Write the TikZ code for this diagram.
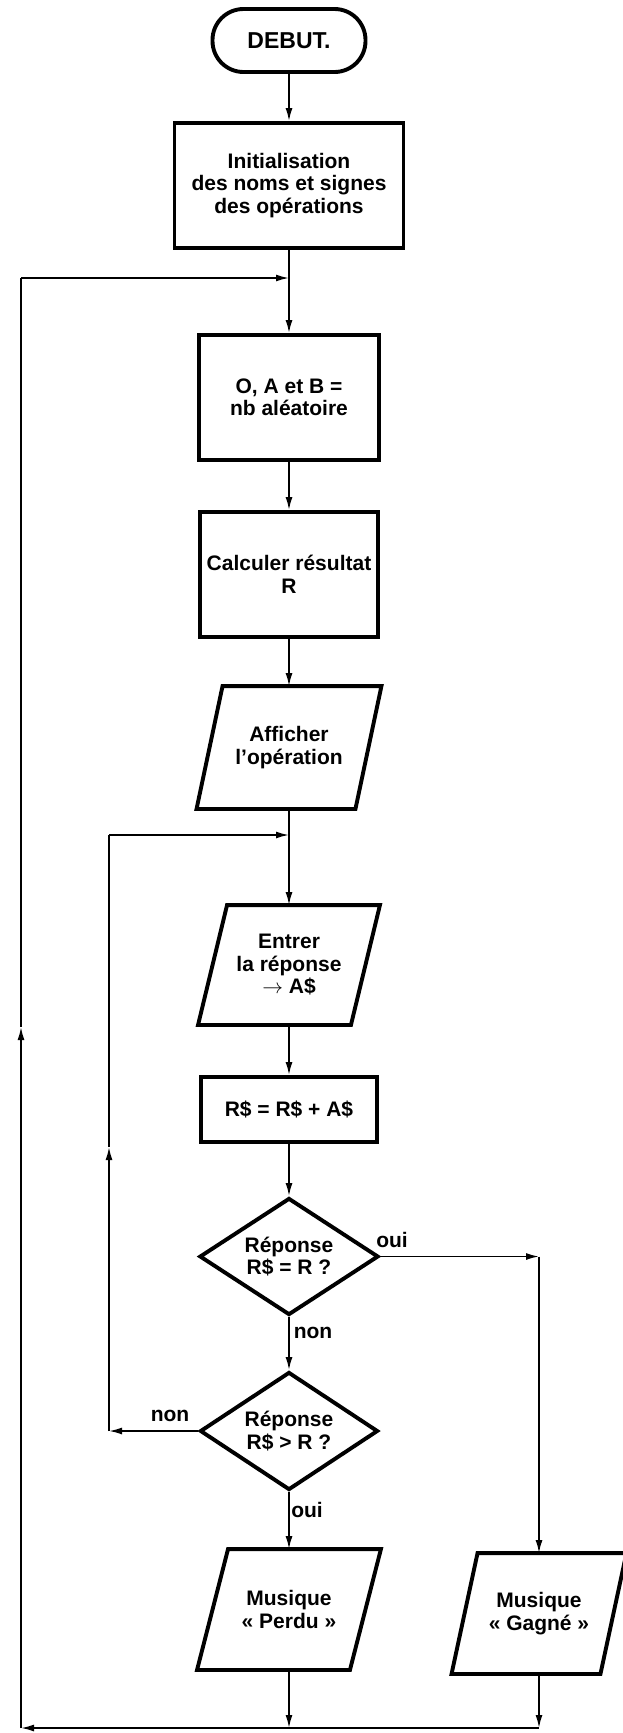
\documentclass[tikz,border=0pt]{standalone}
\usepackage{fontspec}
\setmainfont{Liberation Sans}
\usetikzlibrary{shapes.geometric,arrows.meta}
\newcommand{\iooutline}[2]{%
  \draw[boxline] ([xshift=#2]#1.north west) -- ([xshift=#2]#1.north east)
    -- ([xshift=-#2]#1.south east) -- ([xshift=-#2]#1.south west) -- cycle;}
\begin{document}
\begin{tikzpicture}[x=1pt,y=-1pt,
  txt/.style={font=\fontsize{21}{22.5}\selectfont\bfseries, align=center, inner sep=0pt},
  boxline/.style={line width=3.9pt, line join=miter},
  proc/.style={txt, draw, boxline, rectangle},
  term/.style={proc, rounded corners=31pt},
  iob/.style={txt, rectangle, outer sep=1.95pt},
  dec/.style={txt, draw, boxline, diamond, aspect=1.53},
  lbl/.style={font=\fontsize{21}{22.5}\selectfont\bfseries, inner sep=0pt, anchor=base},
  ln/.style={line width=1.7pt},
  arr/.style={ln, -{Latex[length=13pt,width=7pt]}}
]
\fill[white] (0,0) rectangle (623,1733);
\useasboundingbox (0,0) rectangle (623,1733);

% nodes
\node[term, minimum width=153, minimum height=63, font=\fontsize{23}{25}\selectfont\bfseries] (deb) at (289,40.5) {DEBUT.};
\node[proc, minimum width=229, minimum height=125] (init) at (289,185.5) {Initialisation\\des noms et signes\\des opérations};
\node[proc, minimum width=180, minimum height=125] (oab) at (289,397.5) {O, A et B =\\nb aléatoire};
\node[proc, minimum width=178, minimum height=125] (calc) at (289,574.5) {Calculer résultat\\R};
\node[iob, minimum width=155, minimum height=119] (aff) at (289,747.5) {Afficher\\l’opération};
\iooutline{aff}{13}
\node[iob, minimum width=149, minimum height=116] (ent) at (289,965) {Entrer\\la réponse\\$\rightarrow$ A\$};
\iooutline{ent}{14.5}
\node[proc, minimum width=176, minimum height=65] (rs) at (289,1109.5) {R\$ = R\$ + A\$};
\node[dec, minimum width=179, minimum height=117] (d1) at (289,1256.5) {Réponse\\R\$ = R ?};
\node[dec, minimum width=178, minimum height=118] (d2) at (289,1431) {Réponse\\R\$ > R ?};
\node[iob, minimum width=149, minimum height=117] (per) at (289,1609.5) {Musique\\« Perdu »};
\iooutline{per}{15.5}
\node[iob, minimum width=145, minimum height=117] (gag) at (539,1613.5) {Musique\\« Gagné »};
\iooutline{gag}{13}

% labels
\node[lbl] (l1) at (392,1247) {oui};
\node[lbl] (l2) at (313,1338) {non};
\node[lbl] (l3) at (170,1421) {non};
\node[lbl] (l4) at (307,1517) {oui};

% helper coordinates
\coordinate (j1) at (289,278);
\coordinate (tl) at (21,278);
\coordinate (bl) at (21,1728);
\coordinate (om) at (21,1027);
\coordinate (j2) at (289,835);
\coordinate (itl) at (109,835);
\coordinate (ibl) at (109,1431);
\coordinate (im) at (109,1147);
\coordinate (rc) at (539,1256.5);
\coordinate (pb) at (289,1728);
\coordinate (gb) at (539,1728);

% main flow
\draw[arr] (deb) -- (init);
\draw[arr] (init) -- (oab);
\draw[arr] (oab) -- (calc);
\draw[arr] (calc) -- (aff);
\draw[arr] (aff) -- (ent);
\draw[arr] (ent) -- (rs);
\draw[arr] (rs) -- (d1);
\draw[arr] (d1) -- (d2);
\draw[arr] (d2) -- (per);
\draw[arr] (d1.east) -- (rc);
\draw[arr] (rc) -- (gag);
\draw[arr] (per) -- (pb);
\draw[arr] (gag) -- (gb);

% outer loop
\draw[arr] (gb) -- (bl);
\draw[arr] (bl) -- (om);
\draw[ln] (om) -- (tl);
\draw[arr] (tl) -- (j1);

% inner loop
\draw[arr] (d2.west) -- (ibl);
\draw[arr] (ibl) -- (im);
\draw[ln] (im) -- (itl);
\draw[arr] (itl) -- (j2);
\end{tikzpicture}
\end{document}
